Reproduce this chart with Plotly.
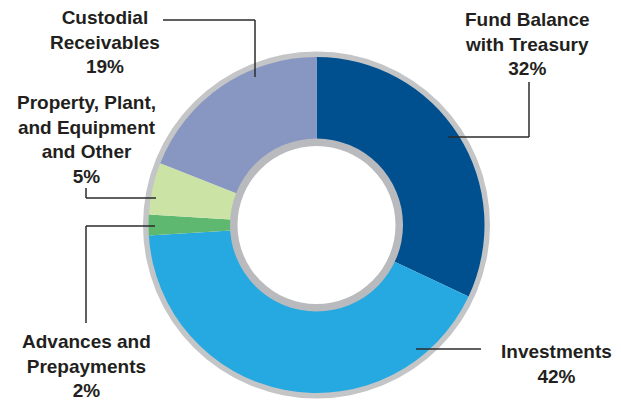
import plotly.graph_objects as go

W, H = 621, 403

categories = ["Fund Balance<br>with Treasury", "Investments", "Advances and<br>Prepayments",
              "Property, Plant,<br>and Equipment<br>and Other", "Custodial<br>Receivables"]
values = [32, 42, 2, 5, 19]
colors = ["#00508f", "#25a9e0", "#5fb86f", "#cce3a6", "#8896c2"]

# label block centers (px) and leader lines (px)
label_pos = [(527, 44), (556, 364), (86, 366), (86, 139), (105, 42)]
leaders = [
    [(529, 82), (529, 137), (448, 137)],
    [(481, 349), (416, 349)],
    [(86, 323), (86, 226), (155, 226)],
    [(86, 188), (86, 198), (156, 198)],
    [(163, 20), (255, 20), (255, 77)],
]

CX, CY = 316.5, 225
R_OUT, R_IN = 168, 85.7


def dom(cx, cy, r):
    return dict(x=[(cx - r) / W, (cx + r) / W], y=[(H - cy - r) / H, (H - cy + r) / H])


def px(x, y):
    return x / W, 1 - y / H


fig = go.Figure()
# outer gray rim
fig.add_trace(go.Pie(values=[1], hole=166 / 173.5, domain=dom(CX, CY, 173.5), sort=False,
                     marker=dict(colors=["#c4c5c7"], line=dict(width=0)), textinfo="none",
                     hoverinfo="skip", showlegend=False))
# data donut
fig.add_trace(go.Pie(labels=[c.replace("<br>", " ") for c in categories], values=values,
                     hole=R_IN / R_OUT, domain=dom(CX, CY, R_OUT), sort=False,
                     direction="clockwise", rotation=0,
                     marker=dict(colors=colors, line=dict(width=0)), textinfo="none",
                     showlegend=False))
# inner gray ring
fig.add_trace(go.Pie(values=[1], hole=79 / 86.5, domain=dom(CX, CY, 86.5), sort=False,
                     marker=dict(colors=["#b9babd"], line=dict(width=0)), textinfo="none",
                     hoverinfo="skip", showlegend=False))

annotations = []
for cat, v, (x, y) in zip(categories, values, label_pos):
    ax, ay = px(x, y)
    annotations.append(dict(x=ax, y=ay, xref="paper", yref="paper", showarrow=False,
                            text=f"<b>{cat}<br>{v}%</b>", align="center",
                            xanchor="center", yanchor="middle",
                            font=dict(family="Liberation Sans, Arial", size=19, color="#231f20")))

shapes = []
for pts in leaders:
    for (x0, y0), (x1, y1) in zip(pts[:-1], pts[1:]):
        a0, b0 = px(x0, y0)
        a1, b1 = px(x1, y1)
        shapes.append(dict(type="line", xref="paper", yref="paper", x0=a0, y0=b0, x1=a1, y1=b1,
                           line=dict(color="#2b2b2b", width=1.5)))

fig.update_layout(width=W, height=H, margin=dict(l=0, r=0, t=0, b=0),
                  paper_bgcolor="white", plot_bgcolor="white",
                  annotations=annotations, shapes=shapes, showlegend=False)

fig.write_html("out.html")
